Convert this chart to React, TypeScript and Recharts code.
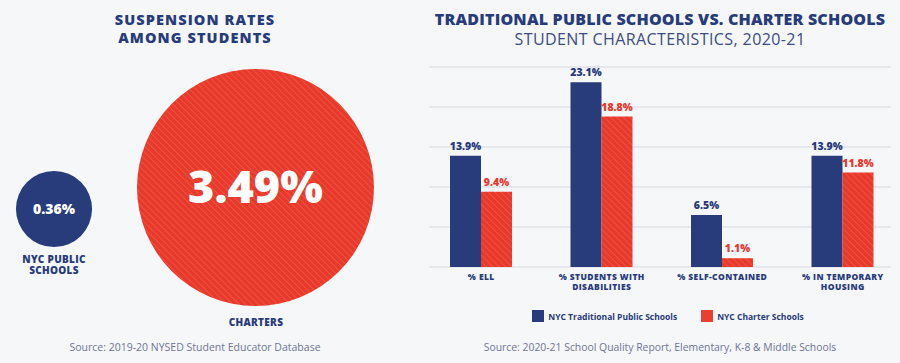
import React from "react";
import {
  BarChart,
  Bar,
  XAxis,
  YAxis,
  ZAxis,
  CartesianGrid,
  Legend,
  LabelList,
  ScatterChart,
  Scatter,
} from "recharts";

// suspension rates (left panel)
const circleNames = ["NYC PUBLIC\nSCHOOLS", "CHARTERS"];
const circleValues = [0.36, 3.49];

// student characteristics (right panel)
const categories = [
  "% ELL",
  "% STUDENTS WITH\nDISABILITIES",
  "% SELF-CONTAINED",
  "% IN TEMPORARY\nHOUSING",
];
const traditionalValues = [13.9, 23.1, 6.5, 13.9];
const charterValues = [9.4, 18.8, 1.1, 11.8];
const yTicks = [0, 5, 10, 15, 20];

const NAVY = "#283b7b";
const RED = "#e8392e";
const GREY = "#6e7596";
const BG = "#f6f7f9";
const FONT = "'Open Sans', 'DejaVu Sans', sans-serif";

const MAX_AREA = 44100; // bubble area (px^2) for the largest value

const barData = categories.map((c, i) => ({
  name: c,
  traditional: traditionalValues[i],
  charter: charterValues[i],
}));

const pct = (v: any) => `${Number(v).toFixed(1)}%`;

function Stripes({ id }: { id: string }) {
  return (
    <defs>
      <pattern
        id={id}
        width={4.5}
        height={4.5}
        patternUnits="userSpaceOnUse"
        patternTransform="rotate(-45)"
      >
        <rect width={4.5} height={4.5} fill={RED} />
        <line x1={0} y1={0} x2={0} y2={4.5} stroke="#f2603f" strokeWidth={1.3} />
      </pattern>
    </defs>
  );
}

function CategoryTick({ x, y, payload }: any) {
  const lines = String(payload.value).split("\n");
  return (
    <text
      x={x}
      y={y}
      textAnchor="middle"
      fill={NAVY}
      fontSize={8.5}
      fontWeight={800}
      fontFamily={FONT}
      letterSpacing={0.4}
    >
      {lines.map((l, i) => (
        <tspan key={i} x={x} dy={i === 0 ? 5 : 10}>
          {l}
        </tspan>
      ))}
    </text>
  );
}

function Bubble({
  index,
  box,
  fill,
  fontSize,
}: {
  index: number;
  box: { x: number; y: number; s: number };
  fill: string;
  fontSize: number;
}) {
  const data = [{ name: circleNames[index], value: circleValues[index] }];
  return (
    <div style={{ position: "absolute", left: box.x, top: box.y }}>
      <ScatterChart
        width={box.s}
        height={box.s}
        margin={{ top: 0, right: 0, bottom: 0, left: 0 }}
      >
        {index === 1 && <Stripes id="bubbleStripes" />}
        <XAxis type="category" dataKey="name" hide />
        <YAxis type="category" dataKey="name" hide />
        <ZAxis
          type="number"
          dataKey="value"
          domain={[0, Math.max(...circleValues)]}
          range={[0, MAX_AREA]}
        />
        <Scatter data={data} fill={fill} isAnimationActive={false}>
          <LabelList
            dataKey="value"
            position="center"
            formatter={(v: any) => `${Number(v).toFixed(2)}%`}
            fill="#ffffff"
            fontSize={fontSize}
            fontWeight={800}
            fontFamily={FONT}
          />
        </Scatter>
      </ScatterChart>
    </div>
  );
}

const labelStyle: React.CSSProperties = {
  position: "absolute",
  color: NAVY,
  fontFamily: FONT,
  fontWeight: 800,
  fontSize: 10,
  lineHeight: "11px",
  textAlign: "center",
  whiteSpace: "pre",
  letterSpacing: 0.3,
};

const leftTitle: React.CSSProperties = {
  height: 18,
  lineHeight: "18px",
};

export default function App() {
  return (
    <div
      style={{
        position: "absolute",
        left: 0,
        top: 0,
        width: 900,
        height: 363,
        background: BG,
        overflow: "hidden",
        fontFamily: FONT,
      }}
    >
      {/* left panel */}
      <div
        style={{
          position: "absolute",
          left: 0,
          top: 11,
          width: 390,
          textAlign: "center",
          color: NAVY,
          fontWeight: 800,
          fontSize: 14.5,
          letterSpacing: 1.1,
        }}
      >
        <div style={leftTitle}>SUSPENSION RATES</div>
        <div style={leftTitle}>AMONG STUDENTS</div>
      </div>

      <Bubble index={0} box={{ x: 0, y: 155, s: 108 }} fill={NAVY} fontSize={14} />
      <Bubble
        index={1}
        box={{ x: 130, y: 62, s: 251 }}
        fill="url(#bubbleStripes)"
        fontSize={45}
      />

      <div style={{ ...labelStyle, left: 4, width: 100, top: 254 }}>
        {circleNames[0]}
      </div>
      <div style={{ ...labelStyle, left: 206, width: 100, top: 317 }}>
        {circleNames[1]}
      </div>

      <div
        style={{
          position: "absolute",
          left: 0,
          width: 390,
          top: 340,
          textAlign: "center",
          color: GREY,
          fontSize: 10.5,
        }}
      >
        Source: 2019-20 NYSED Student Educator Database
      </div>

      {/* right panel */}
      <div
        style={{
          position: "absolute",
          left: 420,
          width: 480,
          top: 9,
          textAlign: "center",
          color: NAVY,
          fontSize: 16,
          lineHeight: "20px",
        }}
      >
        <div style={{ fontWeight: 800, letterSpacing: 0.2 }}>
          TRADITIONAL PUBLIC SCHOOLS VS. CHARTER SCHOOLS
        </div>
        <div style={{ fontWeight: 400, color: "#3d4d85", letterSpacing: 0.4 }}>
          STUDENT CHARACTERISTICS, 2020-21
        </div>
      </div>

      <div style={{ position: "absolute", left: 400, top: 60 }}>
        <BarChart
          width={500}
          height={270}
          data={barData}
          margin={{ top: 7, right: 9, left: 29, bottom: 33 }}
          barSize={31}
          barGap={0}
        >
          <Stripes id="barStripes" />
          <CartesianGrid
            vertical={false}
            stroke="#e1e3e8"
            strokeWidth={1.5}
          />
          <XAxis
            dataKey="name"
            tick={<CategoryTick />}
            tickLine={false}
            axisLine={false}
            interval={0}
            height={30}
            padding={{ left: -8, right: -12 }}
          />
          <YAxis hide domain={[0, 25]} ticks={yTicks} />
          <Legend
            layout="horizontal"
            verticalAlign="middle"
            align="center"
            iconType="square"
            iconSize={12}
            itemSorter={null}
            wrapperStyle={{ top: 243, left: 0, width: 560 }}
            formatter={(value: any) => (
              <span
                style={{
                  color: NAVY,
                  fontSize: 8.5,
                  fontWeight: 700,
                  marginRight: 14,
                  fontFamily: FONT,
                }}
              >
                {value}
              </span>
            )}
          />
          <Bar
            dataKey="traditional"
            name="NYC Traditional Public Schools"
            fill={NAVY}
            isAnimationActive={false}
          >
            <LabelList
              dataKey="traditional"
              position="top"
              offset={6}
              formatter={pct}
              fill={NAVY}
              fontSize={10.5}
              fontWeight={800}
              fontFamily={FONT}
            />
          </Bar>
          <Bar
            dataKey="charter"
            name="NYC Charter Schools"
            fill="url(#barStripes)"
            isAnimationActive={false}
          >
            <LabelList
              dataKey="charter"
              position="top"
              offset={6}
              formatter={pct}
              fill={RED}
              fontSize={10.5}
              fontWeight={800}
              fontFamily={FONT}
            />
          </Bar>
        </BarChart>
      </div>

      <div
        style={{
          position: "absolute",
          left: 420,
          width: 480,
          top: 340,
          textAlign: "center",
          color: GREY,
          fontSize: 10.4,
        }}
      >
        Source: 2020-21 School Quality Report, Elementary, K-8 &amp; Middle Schools
      </div>
    </div>
  );
}
